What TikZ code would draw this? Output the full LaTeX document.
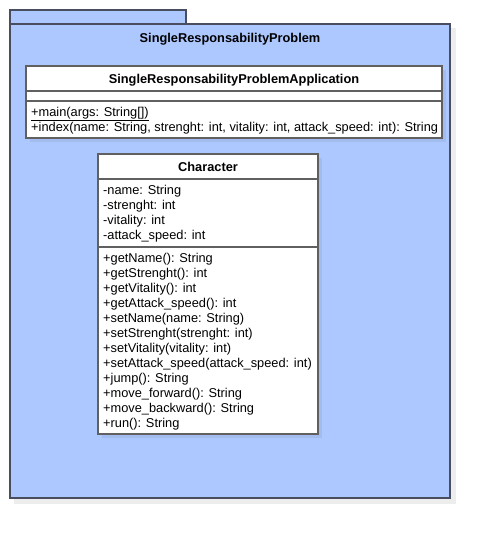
\documentclass[tikz,border=0pt]{standalone}
\usepackage{fontspec}
\setmainfont{Liberation Sans}
\definecolor{pkgfill}{RGB}{173,200,255}
\definecolor{pkgline}{RGB}{72,78,96}
\definecolor{clsline}{RGB}{96,96,96}
\begin{document}
\begin{tikzpicture}[x=1pt,y=-1pt,
  box/.style={draw=#1,line width=1.2pt,anchor=north west,inner sep=0pt,outer sep=0pt},
  txt/.style={anchor=base west,inner sep=0pt,font=\fontsize{12.8}{15}\selectfont},
  ttl/.style={anchor=base,inner sep=0pt,font=\fontsize{12.8}{15}\selectfont\bfseries}]
\useasboundingbox (0,0) rectangle (490,538);
% package shadow
\fill[black!7] (14,28) rectangle (456,504);
% package tab and body
\node[box=pkgline,fill=pkgfill,minimum width=176pt,minimum height=14pt] (tab) at (10,10) {};
\node[box=pkgline,fill=pkgfill,minimum width=440pt,minimum height=474pt] (pkg) at (10,24) {};
\node[ttl] (pkgtitle) at (230,42) {SingleResponsabilityProblem};
% application class
\fill[black,opacity=0.06] (30,70) rectangle (446,142);
\node[box=clsline,fill=white,minimum width=416pt,minimum height=72pt] (app) at (26,66) {};
\draw[clsline,line width=1.2pt] (26,91) -- (442,91);
\draw[clsline,line width=1.2pt] (26,101) -- (442,101);
\node[ttl] (apptitle) at (234,83) {SingleResponsabilityProblemApplication};
\node[txt] (m1) at (31,116) {\underline{+main(args: String[])}};
\node[txt] (m2) at (31,131) {+index(name: String, strenght: int, vitality: int, attack\_speed: int): String};
% Character class
\fill[black,opacity=0.06] (102,158) rectangle (322,438);
\node[box=clsline,fill=white,minimum width=220pt,minimum height=280pt] (chr) at (98,154) {};
\draw[clsline,line width=1.2pt] (98,179) -- (318,179);
\draw[clsline,line width=1.2pt] (98,247) -- (318,247);
\node[ttl] (chrtitle) at (208,171) {Character};
\node[txt] (a1) at (103,194) {-name: String};
\node[txt] (a2) at (103,209) {-strenght: int};
\node[txt] (a3) at (103,224) {-vitality: int};
\node[txt] (a4) at (103,239) {-attack\_speed: int};
\node[txt] (o1) at (103,262) {+getName(): String};
\node[txt] (o2) at (103,277) {+getStrenght(): int};
\node[txt] (o3) at (103,292) {+getVitality(): int};
\node[txt] (o4) at (103,307) {+getAttack\_speed(): int};
\node[txt] (o5) at (103,322) {+setName(name: String)};
\node[txt] (o6) at (103,337) {+setStrenght(strenght: int)};
\node[txt] (o7) at (103,352) {+setVitality(vitality: int)};
\node[txt] (o8) at (103,367) {+setAttack\_speed(attack\_speed: int)};
\node[txt] (o9) at (103,382) {+jump(): String};
\node[txt] (o10) at (103,397) {+move\_forward(): String};
\node[txt] (o11) at (103,412) {+move\_backward(): String};
\node[txt] (o12) at (103,427) {+run(): String};
\end{tikzpicture}
\end{document}
